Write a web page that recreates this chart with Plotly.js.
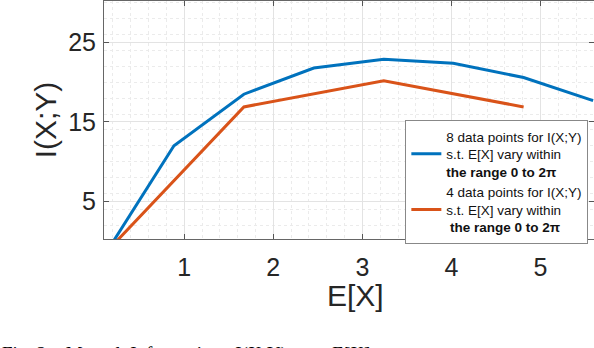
<!DOCTYPE html>
<html>
<head>
<meta charset="utf-8">
<script src="https://cdn.plot.ly/plotly-3.0.1.min.js"></script>
<style>html,body{margin:0;padding:0;background:#fff;}#chart{width:594px;height:348px;}</style>
</head>
<body>
<div id="chart"></div>
<script>
// Data
const xBlue = [0.1, 0.885, 1.67, 2.455, 3.24, 4.02, 4.81, 5.59];
const yBlue = [-1.9, 12.0, 18.5, 21.8, 22.9, 22.4, 20.6, 17.7];
const xRed = [0.1, 1.67, 3.24, 4.81];
const yRed = [-1.7, 16.9, 20.2, 16.9];
const nameBlue = "8 data points for I(X;Y)<br>s.t. E[X] vary within<br><b>the range 0 to 2π</b>";
const nameRed = "4 data points for I(X;Y)<br>s.t. E[X] vary within<br><b> the range 0 to 2π</b>";
const xTicks = [1, 2, 3, 4, 5];
const yTicks = [5, 15, 25];
const xTitle = "E[X]";
const yTitle = "I(X;Y)";
const caption = "Fig. 2:   Mutual  Information   I(X;Y)   vs   E[X]";

const axisCol = '#262626';
const traces = [
  {x: xBlue, y: yBlue, type: 'scatter', mode: 'lines', name: nameBlue,
   line: {color: '#0072BD', width: 3}},
  {x: xRed, y: yRed, type: 'scatter', mode: 'lines', name: nameRed,
   line: {color: '#D95319', width: 3}}
];
const layout = {
  width: 594, height: 348,
  margin: {l: 104, r: 0, t: 1, b: 109},
  paper_bgcolor: '#fff', plot_bgcolor: '#fff',
  font: {family: 'Liberation Sans, Arial, sans-serif', color: axisCol},
  xaxis: {
    range: [0.1, 5.6], tickvals: xTicks, ticktext: xTicks.map(String),
    ticks: 'inside', ticklen: 5, tickcolor: '#555', mirror: 'ticks',
    showline: true, linecolor: '#666', linewidth: 1,
    showgrid: true, gridcolor: '#e3e3e3', gridwidth: 1, zeroline: false,
    tickfont: {size: 25, color: axisCol}, ticklabelstandoff: 6,
    minor: {tick0: 0, dtick: 0.2, showgrid: true, gridcolor: '#ebebeb', griddash: 'dot', gridwidth: 1}
  },
  yaxis: {
    range: [0.25, 30.25], tickvals: yTicks, ticktext: yTicks.map(String),
    ticks: 'inside', ticklen: 5, tickcolor: '#555', mirror: 'ticks',
    showline: true, linecolor: '#666', linewidth: 1,
    showgrid: true, gridcolor: '#e3e3e3', gridwidth: 1, zeroline: false,
    tickfont: {size: 25, color: axisCol}, ticklabelstandoff: 2,
    minor: {tick0: 0, dtick: 2, showgrid: true, gridcolor: '#ebebeb', griddash: 'dot', gridwidth: 1},
    title: {text: yTitle, font: {size: 30, color: axisCol}, standoff: 2}
  },
  showlegend: true,
  legend: {
    x: 0.615, y: 0.5, xanchor: 'left', yanchor: 'top',
    bgcolor: '#fff', bordercolor: '#888', borderwidth: 1,
    font: {size: 13.5, color: '#111', family: 'Liberation Sans, Arial, sans-serif'},
    itemwidth: 30, tracegroupgap: 0
  },
  annotations: [
    {text: xTitle, xref: 'paper', yref: 'paper', x: 0.514, xanchor: 'center',
     y: 0, yshift: -56, yanchor: 'middle', showarrow: false,
     font: {size: 30, color: axisCol}},
    {text: caption, xref: 'paper', yref: 'paper', x: 0, xanchor: 'left',
     y: 0, yshift: -102, yanchor: 'top', showarrow: false, xshift: -104,
     font: {family: 'Liberation Serif, Times New Roman, serif', size: 19, color: '#000'}}
  ]
};
Plotly.newPlot('chart', traces, layout, {displayModeBar: false, staticPlot: true});
</script>
</body>
</html>
